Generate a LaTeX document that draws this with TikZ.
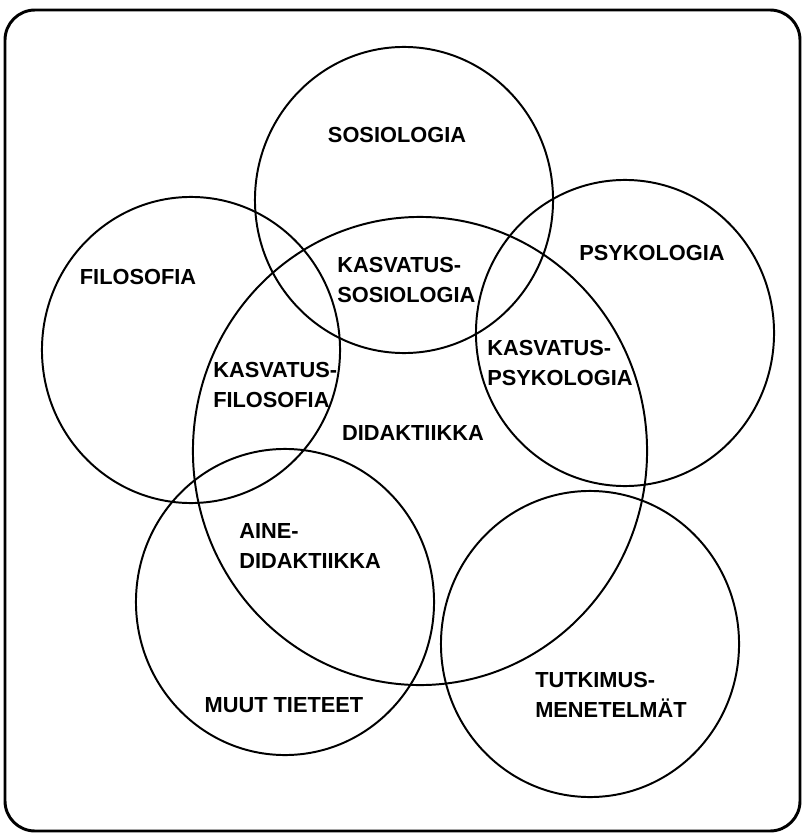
\documentclass[tikz,border=0pt]{standalone}
\usepackage{fontspec}
\setmainfont{Liberation Sans}
\usetikzlibrary{shapes.geometric}

\tikzset{
	ring/.style={draw, ellipse, inner sep=0pt, line width=1.4pt, minimum width=7.45cm, minimum height=7.65cm},
	field/.style={font=\bfseries\fontsize{15.5}{21.3}\selectfont, align=left, inner sep=0pt}
}

\begin{document}
\begin{tikzpicture}[x=0.025cm, y=-0.025cm]

\useasboundingbox (0,0) rectangle (802,833);
\draw[line width=2.1pt, rounded corners=0.75cm] (5,10) rectangle (800,831);

\node[ring] (sosio) at (404,200) {};
\node[ring] (filo) at (191,350) {};
\node[ring] (psyko) at (625,333) {};
\node[ring] (muut) at (285,602) {};
\node[ring] (tutk) at (590,644) {};
\node[ring, minimum width=11.35cm, minimum height=11.7cm] (didak) at (420,451) {};

\node[field] (sosioText) at (397,135) {SOSIOLOGIA};
\node[field] (filoText) at (138,277) {FILOSOFIA};
\node[field] (psykoText) at (652,253) {PSYKOLOGIA};
\node[field] (didakText) at (413,433) {DIDAKTIIKKA};
\node[field] (muutText) at (284,705) {MUUT TIETEET};

\node[field, anchor=west] (kasSos) at (337,280) {KASVATUS-\\SOSIOLOGIA};
\node[field, anchor=west] (kasFil) at (213,385) {KASVATUS-\\FILOSOFIA};
\node[field, anchor=west] (kasPsy) at (487,363) {KASVATUS-\\PSYKOLOGIA};
\node[field, anchor=west] (aineText) at (239,546) {AINE-\\DIDAKTIIKKA};
\node[field, anchor=west] (tutkText) at (535,695) {TUTKIMUS-\\MENETELMÄT};

\end{tikzpicture}
\end{document}
